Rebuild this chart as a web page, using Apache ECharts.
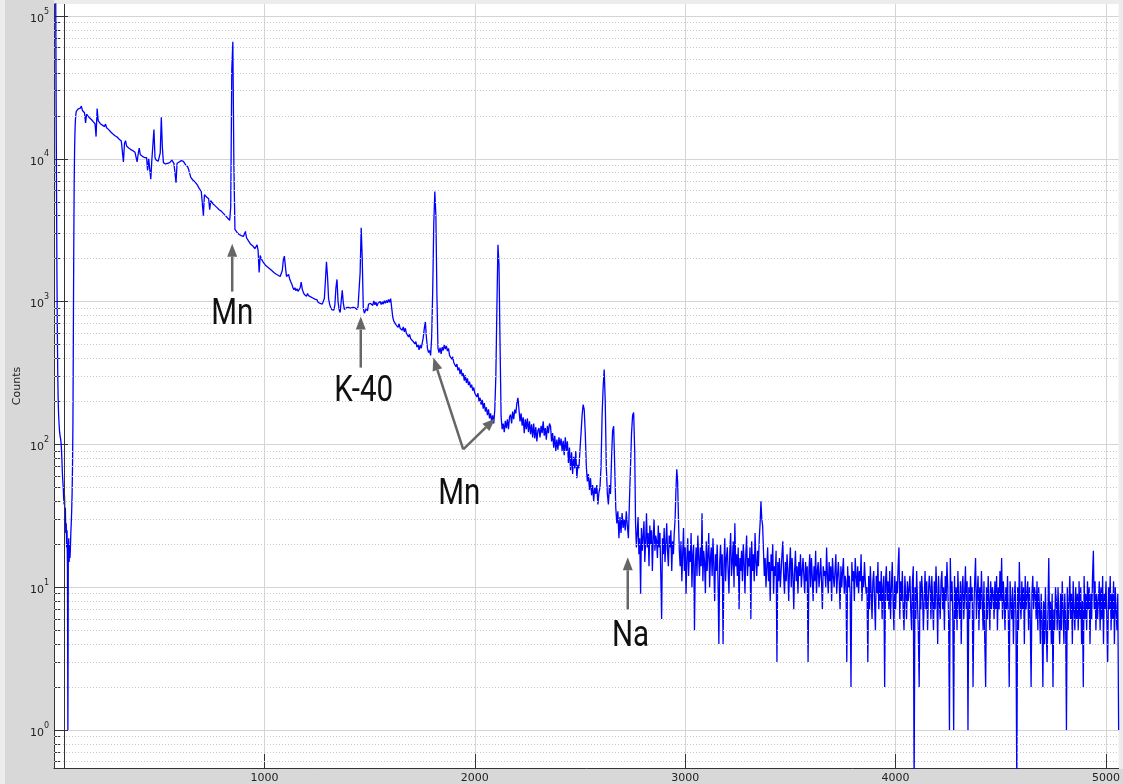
<!DOCTYPE html>
<html>
<head>
<meta charset="utf-8">
<title>Gamma spectrum</title>
<script src="https://cdn.jsdelivr.net/npm/echarts@6/dist/echarts.min.js"></script>
<style>
  html, body { margin: 0; padding: 0; background: #ececec; }
  #chart { width: 1123px; height: 784px; }
</style>
</head>
<body>
<div id="chart"></div>
<script>
// Spectrum counts, stored per channel range (start channel, channel step, counts).
const cutoffStart = 0;
const cutoffStep = 2;
const cutoffCounts = [
  400000, 380000, 350000, 300000, 150000, 27000, 6000, 1500, 600, 300,
  200, 160, 140, 125, 118, 112, 108, 100, 90, 75,
  62, 55, 50, 42, 38, 44, 30, 36, 24, 28,
  19, 25, 14, 1, 18, 22, 15, 20, 16, 19,
  24, 28, 34, 45, 70, 140, 600, 2500, 7000, 12000,
  16000, 19000, 20500, 21500, 22000
];

const bodyStart = 110;
const bodyStep = 5;
const bodyCounts = [
  22000, 22400, 22100, 22600, 23400, 21800, 21500, 21000, 17800, 20500, 20000, 19600, 19200, 19000, 18700, 18300, 18000, 17600, 14300, 22500,
  18500, 18000, 17600, 17400, 17200, 16900, 16800, 17500, 16500, 16200, 16000, 15700, 15400, 15200, 14900, 14700, 14500, 14300, 14200, 13900,
  13700, 13500, 13300, 13100, 9500, 12800, 13400, 12300, 12100, 11900, 11800, 11600, 11500, 11400, 11200, 11100, 11000, 9500, 10800, 11900,
  10700, 10500, 10400, 10300, 10200, 10100, 10200, 8300, 10000, 9900, 7200, 9800, 12500, 16000, 10200, 9800, 9700, 9600, 9500, 11000,
  19500, 12000, 9400, 9300, 9200, 9100, 9300, 9200, 9400, 9600, 9800, 9500, 9300, 9200, 6800, 9300, 9400, 9500, 9400, 9700,
  9800, 9600, 9300, 9100, 8900, 8800, 8400, 7900, 7400, 7200, 7100, 7000, 6900, 6800, 6600, 6400, 6200, 6100, 5900, 5800,
  4000, 5600, 5500, 5400, 5300, 5250, 4400, 5100, 4950, 4850, 4750, 4700, 4600, 4550, 4450, 4400, 4350, 4300, 4250, 4150,
  4100, 4000, 3950, 3850, 3800, 3700, 4600, 42000, 66000, 9000, 3200, 3150, 3050, 3000, 2950, 2920, 2900, 2880, 2860, 2900,
  3100, 2800, 2750, 2650, 2600, 2520, 2480, 2450, 2400, 2350, 2320, 2500, 2280, 1600, 2100, 2000, 1950, 1880, 1850, 1800,
  1780, 1750, 1720, 1700, 1680, 1650, 1630, 1600, 1580, 1560, 1550, 1530, 1510, 1500, 1520, 1650, 1950, 2080, 1750, 1500,
  1480, 1550, 1440, 1380, 1330, 1260, 1210, 1250, 1190, 1230, 1180, 1160, 1250, 1370, 1220, 1160, 1120, 1150, 1090, 1140,
  1100, 1130, 1080, 1110, 1060, 1070, 1040, 1010, 1030, 990, 985, 970, 990, 960, 980, 1050, 1400, 1900, 1500, 1050,
  960, 910, 880, 900, 870, 950, 1250, 1430, 1000, 880, 840, 830, 1200, 980, 880, 900, 906, 880, 910, 890,
  900, 880, 910, 890, 906, 900, 880, 920, 950, 1600, 3290, 2000, 900, 830, 810, 900, 860, 960, 940, 970,
  985, 940, 1010, 950, 990, 930, 975, 945, 1000, 955, 995, 960, 1015, 975, 1020, 980, 1035, 990, 1050, 1030,
  780, 730, 740, 690, 700, 660, 700, 650, 660, 630, 665, 615, 650, 600, 610, 565, 590, 550, 560, 530,
  540, 505, 525, 480, 500, 460, 495, 470, 510, 560, 650, 720, 560, 470, 440, 455, 420, 560, 1200, 3500,
  5900, 4000, 1100, 470, 440, 475, 430, 480, 455, 500, 465, 490, 450, 470, 420, 430, 395, 410, 375, 385,
  350, 365, 330, 345, 310, 335, 300, 315, 280, 305, 270, 290, 260, 275, 250, 262, 238, 250, 228, 235,
  215, 228, 200, 212, 190, 205, 178, 195, 170, 182, 160, 176, 152, 165, 145, 160, 140, 175, 300, 900,
  2500, 1800, 500, 157, 128, 140, 122, 146, 130, 150, 128, 155, 162, 140, 170, 150, 175, 165, 195, 212,
  175, 145, 165, 135, 155, 120, 150, 128, 152, 122, 145, 118, 138, 112, 140, 110, 132, 105, 125, 130,
  112, 135, 120, 145, 115, 130, 108, 135, 120, 140, 134, 105, 120, 95, 115, 90, 108, 92, 112, 98,
  110, 90, 106, 84, 112, 90, 105, 74, 95, 66, 88, 62, 82, 68, 90, 58, 72, 68, 92, 120,
  160, 190, 175, 120, 70, 55, 62, 48, 58, 44, 52, 40, 50, 45, 52, 38, 46, 50, 70, 160,
  250, 335, 200, 70, 45, 38, 52, 45, 80, 125, 134, 70, 36, 28, 34, 22, 31, 24, 33, 26,
  30, 25, 34, 27, 22, 40, 70, 120, 160, 167, 90
];

const tailStart = 2764;
const tailStep = 4;
const tailCounts = [
  28, 19, 24, 31, 17, 22, 9, 26, 18, 23, 29, 15, 21, 33, 19, 24, 14, 27, 20, 25, 13, 22, 30, 18, 23,
  21, 16, 27, 19, 24, 12, 6, 22, 17, 26, 15, 20, 28, 18, 14, 23, 19, 25, 13, 21, 17, 24, 30, 48, 67,
  55, 30, 18, 14, 21, 11, 17, 26, 13, 19, 9, 16, 22, 12, 18, 15, 24, 10, 17, 20, 5, 14, 19, 12, 23,
  16, 12, 19, 14, 33, 11, 18, 15, 9, 21, 13, 17, 24, 10, 16, 19, 12, 22, 14, 8, 17, 13, 20, 11, 4,
  15, 20, 12, 17, 4, 14, 22, 11, 16, 19, 13, 9, 18, 24, 12, 15, 21, 10, 28, 14, 17, 12, 19, 7, 16,
  13, 18, 11, 20, 15, 9, 17, 23, 12, 16, 14, 19, 6, 21, 13, 17, 11, 24, 15, 12, 18, 14, 22, 28, 40,
  30, 27, 18, 12, 16, 10, 14, 19, 11, 15, 8, 17, 13, 20, 9, 14, 12, 18, 3, 15, 11, 16, 10, 13, 17,
  21, 12, 9, 15, 11, 17, 13, 8, 14, 19, 10, 16, 12, 7, 13, 18, 11, 14, 9, 15, 12, 17, 10, 13, 16,
  12, 9, 15, 11, 14, 3, 13, 17, 10, 16, 12, 8, 14, 11, 18, 9, 13, 15, 10, 12, 16, 11, 7, 14, 12,
  13, 10, 19, 12, 9, 15, 11, 14, 8, 16, 12, 10, 13, 17, 9, 12, 15, 11, 7, 14, 10, 13, 16, 9, 12,
  11, 3, 14, 10, 12, 9, 2, 15, 11, 13, 8, 16, 12, 10, 14, 9, 13, 11, 17, 8, 12, 10, 15, 11, 9,
  10, 3, 12, 7, 14, 9, 6, 11, 13, 8, 5, 12, 9, 15, 7, 11, 8, 13, 6, 10, 12, 2, 11, 14, 8,
  11, 7, 13, 6, 10, 15, 8, 5, 12, 7, 11, 9, 14, 19, 6, 11, 8, 13, 7, 5, 12, 9, 6, 11, 8,
  8, 12, 7, 5, 11, 14, 0.4, 10, 6, 13, 8, 5, 2, 11, 7, 12, 9, 5, 8, 13, 7, 11, 5, 9, 12,
  10, 6, 12, 8, 5, 11, 7, 14, 9, 4, 12, 8, 6, 11, 13, 7, 10, 5, 12, 8, 15, 10, 6, 1, 16,
  8, 11, 6, 1, 12, 6, 10, 5, 13, 8, 6, 11, 4, 10, 12, 6, 9, 14, 7, 11, 1, 10, 6, 12, 8,
  10, 2, 7, 11, 16, 6, 9, 12, 5, 10, 7, 13, 8, 5, 11, 4, 2, 10, 6, 12, 8, 5, 11, 7, 10,
  9, 6, 11, 7, 12, 5, 10, 7, 13, 8, 16, 6, 11, 8, 5, 10, 7, 12, 6, 2, 11, 8, 6, 10, 4,
  8, 11, 6, 0.4, 10, 5, 15, 8, 6, 11, 7, 10, 4, 12, 7, 9, 11, 5, 10, 6, 2, 9, 12, 7, 10,
  9, 6, 11, 5, 10, 7, 4, 9, 6, 2, 8, 4, 10, 5, 3, 7, 16, 5, 8, 4, 9, 2, 7, 5, 10,
  8, 5, 10, 6, 4, 9, 5, 11, 7, 4, 9, 6, 1, 10, 5, 8, 12, 6, 9, 4, 11, 7, 5, 10, 6,
  9, 5, 11, 6, 10, 4, 8, 2, 12, 6, 9, 5, 11, 7, 10, 4, 9, 6, 12, 18, 7, 11, 5, 9, 6,
  8, 11, 5, 10, 6, 12, 4, 9, 7, 11, 6, 3, 10, 7, 12, 5, 9, 6, 11, 4, 10, 7, 5, 9, 1
];

// Axis ranges and tick values
const channelMin = 0;
const channelMax = 5060;
const countMin = 0.542;
const countMax = 121300;
const xTickValues = [1000, 2000, 3000, 4000, 5000];
const yDecades = [1, 10, 100, 1000, 10000, 100000];
const yMinorTicks = [
  0.6, 0.7, 0.8, 0.9,
  2, 3, 4, 5, 6, 7, 8, 9,
  20, 30, 40, 50, 60, 70, 80, 90,
  200, 300, 400, 500, 600, 700, 800, 900,
  2000, 3000, 4000, 5000, 6000, 7000, 8000, 9000,
  20000, 30000, 40000, 50000, 60000, 70000, 80000, 90000
];
// Discriminator gate channel
const gateChannel = 49;

// Peak annotations (channel, counts)
const noteTexts = [
  { text: 'Mn', at: [847, 811] },
  { text: 'K-40', at: [1472, 234] },
  { text: 'Mn', at: [1926, 44] },
  { text: 'Na', at: [2740, 4.47] }
];
const noteArrows = [
  { from: [847, 1175], to: [847, 2544] },
  { from: [1458, 345], to: [1458, 785] },
  { from: [1945, 92.3], to: [1803, 406] },
  { from: [1945, 92.3], to: [2097, 152] },
  { from: [2727, 7.0], to: [2727, 16.2] }
];

function segment(start, step, counts) {
  return counts.map(function (c, i) { return [start + i * step, c]; });
}
const spectrum = [].concat(
  segment(cutoffStart, cutoffStep, cutoffCounts),
  segment(bodyStart, bodyStep, bodyCounts),
  segment(tailStart, tailStep, tailCounts)
);

function decadeLabel(v) {
  const lg = Math.log10(v);
  const e = Math.round(lg);
  if (Math.abs(lg - e) > 1e-6) return '';
  return '{b|10}{s|' + e + '}';
}

const chart = echarts.init(document.getElementById('chart'));

const bands = [
  { type: 'rect', z: -10, shape: { x: 5, y: 0, width: 49, height: 784 }, style: { fill: '#d8d8d8' } },
  { type: 'rect', z: -10, shape: { x: 5, y: 769, width: 1118, height: 15 }, style: { fill: '#d8d8d8' } }
];

chart.setOption({
  backgroundColor: '#ececec',
  animation: false,
  graphic: bands,
  grid: {
    left: 54, right: 0, top: 4, bottom: 15,
    show: true, backgroundColor: '#ffffff', borderWidth: 0
  },
  xAxis: {
    type: 'value',
    min: channelMin,
    max: channelMax,
    interval: 1000,
    axisLine: { show: true, onZero: false, lineStyle: { color: '#333', width: 1 } },
    axisTick: { show: true, inside: true, length: 14, customValues: xTickValues, lineStyle: { color: '#333' } },
    axisLabel: {
      customValues: xTickValues,
      margin: 5, color: '#222', fontSize: 11, fontFamily: 'DejaVu Sans',
      formatter: function (v) { return xTickValues.indexOf(v) >= 0 ? String(v) : ''; }
    },
    splitLine: { show: true, lineStyle: { color: '#d4d4d4', width: 1 } }
  },
  yAxis: [
    {
      type: 'log',
      logBase: 10,
      min: countMin,
      max: countMax,
      name: 'Counts',
      nameLocation: 'middle',
      nameGap: 31,
      nameMoveOverlap: false,
      nameTextStyle: { color: '#222', fontSize: 11, fontFamily: 'DejaVu Sans' },
      axisLine: { show: true, onZero: false, lineStyle: { color: '#333', width: 1 } },
      axisTick: { show: true, inside: true, length: 14, customValues: yDecades, lineStyle: { color: '#333' } },
      axisLabel: {
        customValues: yDecades,
        margin: 5,
        formatter: decadeLabel,
        rich: {
          b: { fontSize: 11, fontFamily: 'DejaVu Sans', color: '#222', lineHeight: 17, verticalAlign: 'bottom' },
          s: { fontSize: 8, fontFamily: 'DejaVu Sans', color: '#222', lineHeight: 17, verticalAlign: 'top' }
        }
      },
      splitLine: { show: true, lineStyle: { color: '#d4d4d4', width: 1 } }
    },
    {
      type: 'log',
      logBase: 10,
      min: countMin,
      max: countMax,
      position: 'left',
      axisLine: { show: false },
      axisLabel: { show: false },
      splitLine: { show: false },
      axisTick: { show: true, inside: true, length: 7, customValues: yMinorTicks, lineStyle: { color: '#333' } }
    }
  ],
  series: [
    {
      // minor decade grid
      type: 'line',
      data: [],
      z: 1,
      silent: true,
      markLine: {
        silent: true,
        symbol: 'none',
        animation: false,
        label: { show: false },
        lineStyle: { type: [1, 2], color: '#c6c6c6', width: 1 },
        data: yMinorTicks.map(function (v) { return { yAxis: v }; })
      }
    },
    {
      type: 'line',
      data: spectrum,
      showSymbol: false,
      symbol: 'none',
      sampling: 'none',
      clip: true,
      z: 3,
      lineStyle: { color: '#0000ff', width: 1.3 },
      markLine: {
        silent: true,
        symbol: 'none',
        animation: false,
        label: { show: false },
        lineStyle: { type: 'solid', color: '#333', width: 1 },
        data: [{ xAxis: gateChannel }]
      }
    }
  ]
});

// Peak annotations placed through the chart's own coordinate system
const notes = [];
noteArrows.forEach(function (a) {
  const p0 = chart.convertToPixel({ gridIndex: 0 }, a.from);
  const p1 = chart.convertToPixel({ gridIndex: 0 }, a.to);
  const dx = p1[0] - p0[0], dy = p1[1] - p0[1];
  const len = Math.hypot(dx, dy);
  const ux = dx / len, uy = dy / len;
  const headLen = 13, headHalf = 5;
  const bx = p1[0] - ux * headLen, by = p1[1] - uy * headLen;
  notes.push({
    type: 'line', z: 20,
    shape: { x1: p0[0], y1: p0[1], x2: bx, y2: by },
    style: { stroke: '#666', lineWidth: 2.5 }
  });
  notes.push({
    type: 'polygon', z: 20,
    shape: { points: [[p1[0], p1[1]], [bx - uy * headHalf, by + ux * headHalf], [bx + uy * headHalf, by - ux * headHalf]] },
    style: { fill: '#666' }
  });
});
noteTexts.forEach(function (n) {
  const p = chart.convertToPixel({ gridIndex: 0 }, n.at);
  notes.push({
    type: 'text', z: 20,
    x: p[0], y: p[1], scaleX: 0.82,
    style: { text: n.text, font: '36px Roboto', fill: '#111', align: 'center', verticalAlign: 'middle' }
  });
});
chart.setOption({ graphic: bands.concat(notes) });
</script>
</body>
</html>
